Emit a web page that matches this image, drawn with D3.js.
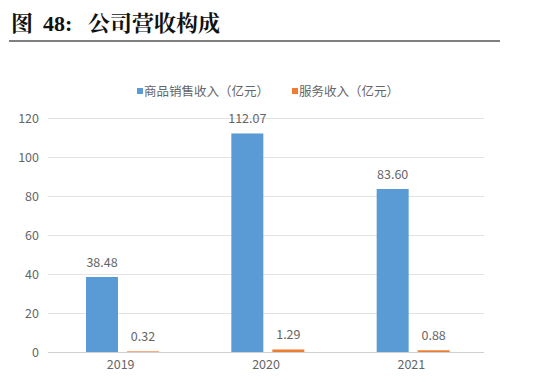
<!DOCTYPE html>
<html><head><meta charset="utf-8">
<script src="https://cdn.jsdelivr.net/npm/d3@7"></script>
<style>body{margin:0;background:#fff}</style>
</head><body>
<svg id="c" width="550" height="385"></svg>
<script>
const years = ["2019", "2020", "2021"];
const seriesNames = ["商品销售收入（亿元）", "服务收入（亿元）"];
const goodsRevenue = [38.48, 112.07, 83.60];
const serviceRevenue = [0.32, 1.29, 0.88];
const yTicks = [0, 20, 40, 60, 80, 100, 120];
const colors = ["#5B9BD5", "#ED7D31"];

(function () {
const svg = d3.select("#c");
const font = "'Microsoft YaHei','Noto Sans CJK SC',sans-serif";
const labelColor = "#666666";

// Title
const titleFont = "'Liberation Serif','Noto Serif CJK SC','Noto Sans CJK SC',serif";
[["图", 11], ["48:", 43], ["公司营收构成", 88]].forEach(([t, tx]) => {
  svg.append("text").attr("x", tx).attr("y", 31)
    .attr("font-family", titleFont)
    .attr("font-weight", "bold").attr("font-size", 22).attr("fill", "#111")
    .text(t);
});
svg.append("line").attr("x1", 9).attr("x2", 500).attr("y1", 41).attr("y2", 41)
  .attr("stroke", "#555").attr("stroke-width", 1.5);

const pLeft = 48, pRight = 484, pTop = 118, pBottom = 352;
const x = d3.scaleBand().domain(years).range([pLeft, pRight]);
const x1 = d3.scaleBand().domain([0, 1]).range([38, 38 + 73]).paddingInner(0.22);
const y = d3.scaleLinear().domain([0, 120]).range([pBottom, pTop]);

// gridlines
svg.append("g").selectAll("line").data(yTicks).join("line")
  .attr("x1", pLeft).attr("x2", pRight)
  .attr("y1", d => Math.round(y(d)) + 0.5).attr("y2", d => Math.round(y(d)) + 0.5)
  .attr("stroke", d => d === 0 ? "#d0d0d0" : "#e3e3e3").attr("stroke-width", 1);

// y axis labels
const yAxis = d3.axisLeft(y).tickValues(yTicks).tickSize(0).tickPadding(9);
const gy = svg.append("g").attr("transform", `translate(${pLeft},0)`).call(yAxis);
gy.select(".domain").remove();
gy.selectAll("text").attr("font-family", font).attr("font-size", 12.5).attr("fill", labelColor);

// x axis labels
const xAxis = d3.axisBottom(x).tickSize(0).tickPadding(8);
const gx = svg.append("g").attr("transform", `translate(0,${pBottom})`).call(xAxis);
gx.select(".domain").remove();
gx.selectAll("text").attr("font-family", font).attr("font-size", 12.5).attr("fill", labelColor);

const series = [goodsRevenue, serviceRevenue];
series.forEach((vals, si) => {
  const g = svg.append("g");
  g.selectAll("rect").data(vals).join("rect")
    .attr("x", (d, i) => x(years[i]) + x1(si))
    .attr("width", x1.bandwidth())
    .attr("y", d => y(d))
    .attr("height", d => Math.max(y(0) - y(d), 0))
    .attr("fill", colors[si]);
  g.selectAll("text").data(vals).join("text")
    .attr("x", (d, i) => x(years[i]) + x1(si) + x1.bandwidth() / 2)
    .attr("y", d => y(d) - 10)
    .attr("text-anchor", "middle")
    .attr("font-family", font).attr("font-size", 12.5).attr("fill", labelColor)
    .text(d => d.toFixed(2));
});

// legend
const legendX = [137, 292];
seriesNames.forEach((n, i) => {
  svg.append("rect").attr("x", legendX[i]).attr("y", 88).attr("width", 6).attr("height", 6).attr("fill", colors[i]);
  svg.append("text").attr("x", legendX[i] + 7).attr("y", 96)
    .attr("font-family", font).attr("font-size", 12.5).attr("fill", labelColor).text(n);
});
})();
</script>
</body></html>
